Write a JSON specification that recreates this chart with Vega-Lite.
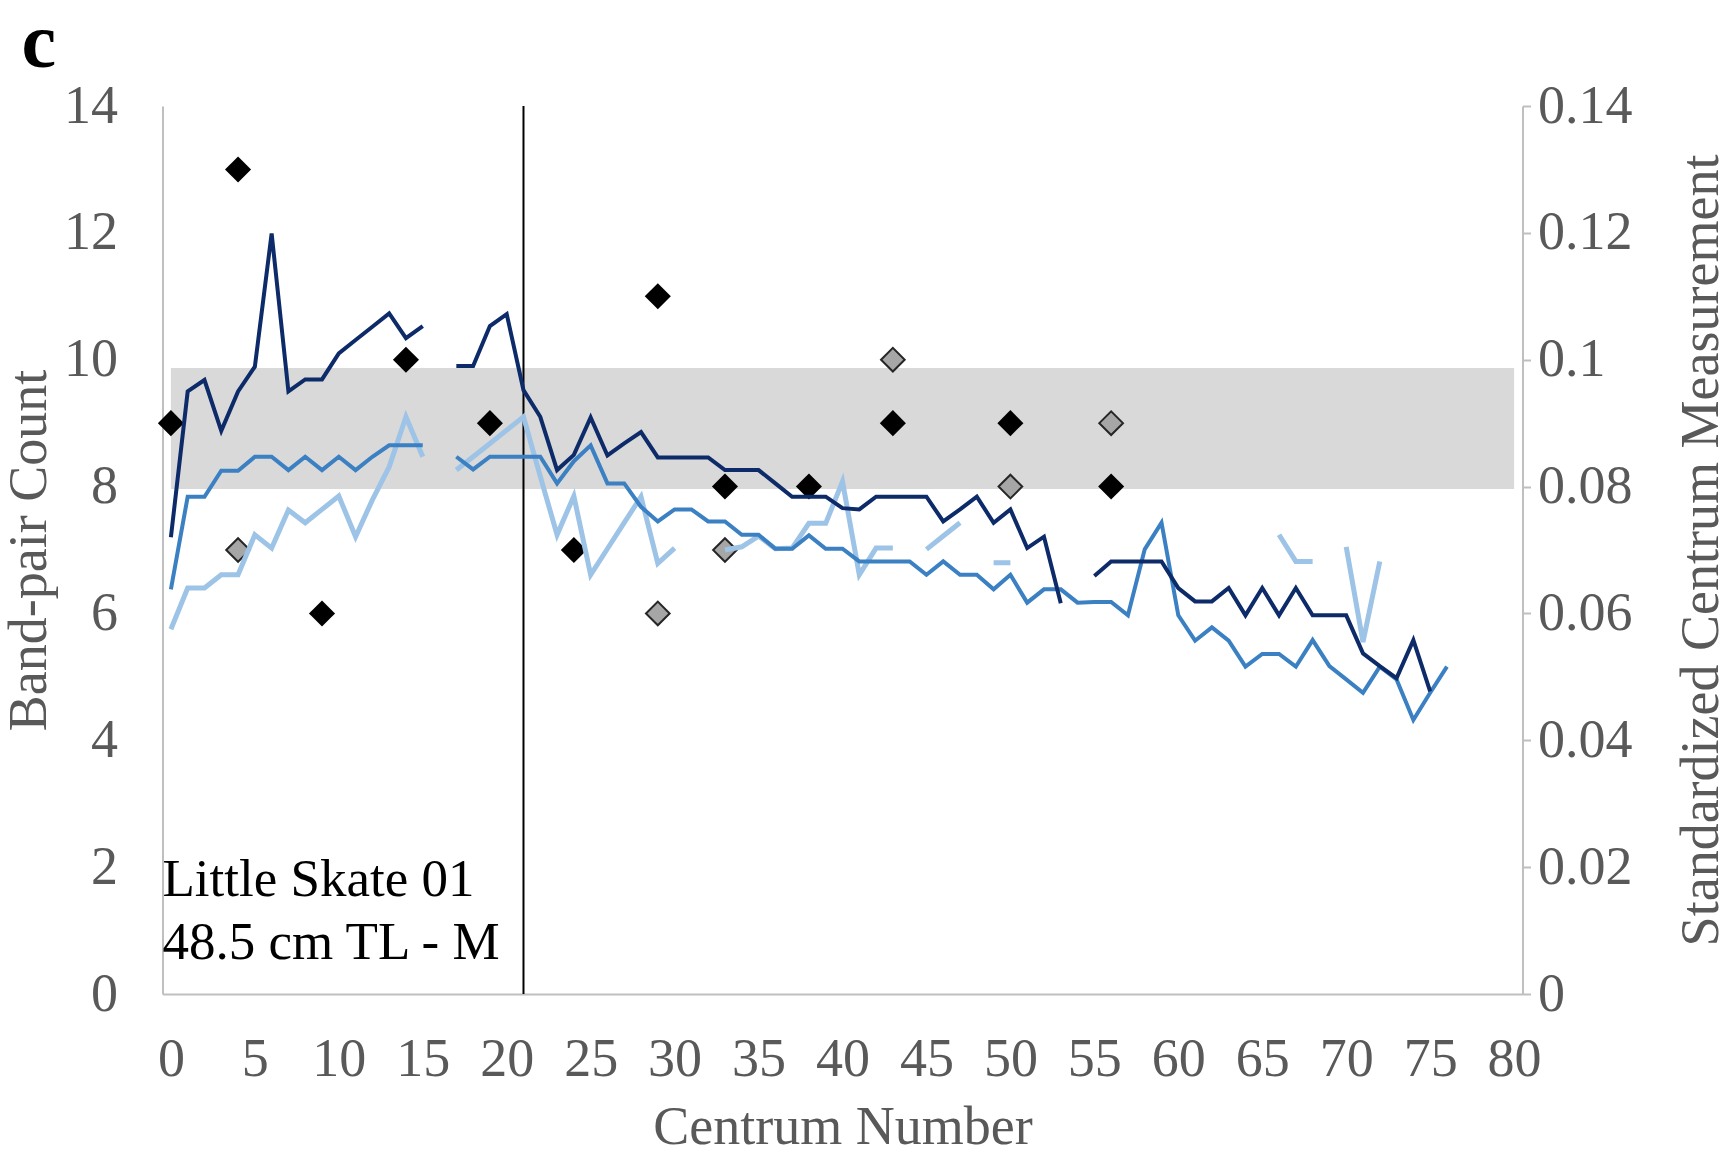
{
  "$schema": "https://vega.github.io/schema/vega-lite/v6.json",
  "width": 1360,
  "height": 888,
  "autosize": {"type": "none"},
  "padding": {"left": 162.5, "top": 106, "right": 202.5, "bottom": 163},
  "background": "white",
  "config": {"view": {"stroke": null}, "font": "Liberation Serif"},
  "title": {"text": "c", "anchor": "start", "frame": "group", "orient": "top", "font": "Liberation Serif", "fontSize": 78, "fontWeight": "bold", "color": "#000000", "dx": -141, "dy": 78, "baseline": "alphabetic", "offset": 12},
  "datasets": {
    "band": [{"centrum": 0, "end": 80, "low": 7.96, "high": 9.87}],
    "divider": [{"centrum": 21}],
    "note": [{"centrum": -0.5, "count": 1.55, "label": "Little Skate 01\n48.5 cm TL - M"}],
    "counts": [
      {"centrum": 0, "count": 9, "reading": "primary"},
      {"centrum": 4, "count": 13, "reading": "primary"},
      {"centrum": 9, "count": 6, "reading": "primary"},
      {"centrum": 14, "count": 10, "reading": "primary"},
      {"centrum": 19, "count": 9, "reading": "primary"},
      {"centrum": 24, "count": 7, "reading": "primary"},
      {"centrum": 29, "count": 11, "reading": "primary"},
      {"centrum": 33, "count": 8, "reading": "primary"},
      {"centrum": 38, "count": 8, "reading": "primary"},
      {"centrum": 43, "count": 9, "reading": "primary"},
      {"centrum": 50, "count": 9, "reading": "primary"},
      {"centrum": 56, "count": 8, "reading": "primary"},
      {"centrum": 4, "count": 7, "reading": "secondary"},
      {"centrum": 29, "count": 6, "reading": "secondary"},
      {"centrum": 33, "count": 7, "reading": "secondary"},
      {"centrum": 43, "count": 10, "reading": "secondary"},
      {"centrum": 50, "count": 8, "reading": "secondary"},
      {"centrum": 56, "count": 9, "reading": "secondary"}
    ],
    "measures": [
      {"centrum": 0, "dark": 0.0720, "medium": 0.0638, "light": 0.0575},
      {"centrum": 1, "dark": 0.0950, "medium": 0.0784, "light": 0.0640},
      {"centrum": 2, "dark": 0.0968, "medium": 0.0784, "light": 0.0640},
      {"centrum": 3, "dark": 0.0888, "medium": 0.0825, "light": 0.0661},
      {"centrum": 4, "dark": 0.0950, "medium": 0.0825, "light": 0.0661},
      {"centrum": 5, "dark": 0.0989, "medium": 0.0847, "light": 0.0724},
      {"centrum": 6, "dark": 0.1199, "medium": 0.0847, "light": 0.0703},
      {"centrum": 7, "dark": 0.0950, "medium": 0.0826, "light": 0.0763},
      {"centrum": 8, "dark": 0.0969, "medium": 0.0847, "light": 0.0743},
      {"centrum": 9, "dark": 0.0969, "medium": 0.0826, "light": 0.0764},
      {"centrum": 10, "dark": 0.1010, "medium": 0.0847, "light": 0.0785},
      {"centrum": 11, "dark": 0.1031, "medium": 0.0826, "light": 0.0721},
      {"centrum": 12, "dark": 0.1052, "medium": 0.0847, "light": 0.0779},
      {"centrum": 13, "dark": 0.1073, "medium": 0.0865, "light": 0.0831},
      {"centrum": 14, "dark": 0.1034, "medium": 0.0865, "light": 0.0910},
      {"centrum": 15, "dark": 0.1053, "medium": 0.0865, "light": 0.0847},
      {"centrum": 16, "dark": null, "medium": null, "light": null},
      {"centrum": 17, "dark": 0.0990, "medium": 0.0847, "light": 0.0826},
      {"centrum": 18, "dark": 0.0990, "medium": 0.0827, "light": 0.0847},
      {"centrum": 19, "dark": 0.1053, "medium": 0.0847, "light": 0.0868},
      {"centrum": 20, "dark": 0.1072, "medium": 0.0847, "light": 0.0889},
      {"centrum": 21, "dark": 0.0952, "medium": 0.0847, "light": 0.0910},
      {"centrum": 22, "dark": 0.0910, "medium": 0.0847, "light": 0.0816},
      {"centrum": 23, "dark": 0.0826, "medium": 0.0805, "light": 0.0724},
      {"centrum": 24, "dark": 0.0850, "medium": 0.0840, "light": 0.0785},
      {"centrum": 25, "dark": 0.0909, "medium": 0.0865, "light": 0.0661},
      {"centrum": 26, "dark": 0.0849, "medium": 0.0805, "light": 0.0702},
      {"centrum": 27, "dark": 0.0868, "medium": 0.0805, "light": 0.0743},
      {"centrum": 28, "dark": 0.0886, "medium": 0.0768, "light": 0.0784},
      {"centrum": 29, "dark": 0.0846, "medium": 0.0745, "light": 0.0679},
      {"centrum": 30, "dark": 0.0846, "medium": 0.0764, "light": 0.0703},
      {"centrum": 31, "dark": 0.0846, "medium": 0.0764, "light": null},
      {"centrum": 32, "dark": 0.0846, "medium": 0.0745, "light": null},
      {"centrum": 33, "dark": 0.0826, "medium": 0.0745, "light": 0.0700},
      {"centrum": 34, "dark": 0.0826, "medium": 0.0724, "light": 0.0705},
      {"centrum": 35, "dark": 0.0826, "medium": 0.0724, "light": 0.0722},
      {"centrum": 36, "dark": 0.0805, "medium": 0.0702, "light": 0.0702},
      {"centrum": 37, "dark": 0.0784, "medium": 0.0702, "light": 0.0703},
      {"centrum": 38, "dark": 0.0784, "medium": 0.0723, "light": 0.0742},
      {"centrum": 39, "dark": 0.0784, "medium": 0.0702, "light": 0.0742},
      {"centrum": 40, "dark": 0.0766, "medium": 0.0702, "light": 0.0808},
      {"centrum": 41, "dark": 0.0764, "medium": 0.0682, "light": 0.0661},
      {"centrum": 42, "dark": 0.0784, "medium": 0.0682, "light": 0.0703},
      {"centrum": 43, "dark": 0.0784, "medium": 0.0682, "light": 0.0703},
      {"centrum": 44, "dark": 0.0784, "medium": 0.0682, "light": null},
      {"centrum": 45, "dark": 0.0784, "medium": 0.0661, "light": 0.0701},
      {"centrum": 46, "dark": 0.0745, "medium": 0.0682, "light": 0.0722},
      {"centrum": 47, "dark": 0.0764, "medium": 0.0661, "light": 0.0743},
      {"centrum": 48, "dark": 0.0784, "medium": 0.0661, "light": null},
      {"centrum": 49, "dark": 0.0743, "medium": 0.0638, "light": 0.0680},
      {"centrum": 50, "dark": 0.0764, "medium": 0.0661, "light": 0.0680},
      {"centrum": 51, "dark": 0.0703, "medium": 0.0617, "light": null},
      {"centrum": 52, "dark": 0.0721, "medium": 0.0638, "light": null},
      {"centrum": 53, "dark": 0.0616, "medium": 0.0638, "light": null},
      {"centrum": 54, "dark": null, "medium": 0.0617, "light": null},
      {"centrum": 55, "dark": 0.0659, "medium": 0.0618, "light": null},
      {"centrum": 56, "dark": 0.0682, "medium": 0.0618, "light": null},
      {"centrum": 57, "dark": 0.0682, "medium": 0.0597, "light": null},
      {"centrum": 58, "dark": 0.0682, "medium": 0.0701, "light": null},
      {"centrum": 59, "dark": 0.0682, "medium": 0.0743, "light": null},
      {"centrum": 60, "dark": 0.0640, "medium": 0.0597, "light": null},
      {"centrum": 61, "dark": 0.0619, "medium": 0.0557, "light": null},
      {"centrum": 62, "dark": 0.0619, "medium": 0.0578, "light": null},
      {"centrum": 63, "dark": 0.0640, "medium": 0.0557, "light": null},
      {"centrum": 64, "dark": 0.0597, "medium": 0.0516, "light": null},
      {"centrum": 65, "dark": 0.0640, "medium": 0.0536, "light": null},
      {"centrum": 66, "dark": 0.0597, "medium": 0.0536, "light": 0.0724},
      {"centrum": 67, "dark": 0.0640, "medium": 0.0516, "light": 0.0682},
      {"centrum": 68, "dark": 0.0597, "medium": 0.0558, "light": 0.0682},
      {"centrum": 69, "dark": 0.0597, "medium": 0.0517, "light": null},
      {"centrum": 70, "dark": 0.0597, "medium": 0.0496, "light": 0.0705},
      {"centrum": 71, "dark": 0.0537, "medium": 0.0475, "light": 0.0555},
      {"centrum": 72, "dark": 0.0517, "medium": 0.0516, "light": 0.0682},
      {"centrum": 73, "dark": 0.0498, "medium": 0.0496, "light": null},
      {"centrum": 74, "dark": 0.0558, "medium": 0.0432, "light": null},
      {"centrum": 75, "dark": 0.0477, "medium": 0.0475, "light": null},
      {"centrum": 76, "dark": null, "medium": 0.0516, "light": null}
    ]
  },
  "encoding": {
    "x": {
      "field": "centrum",
      "type": "quantitative",
      "scale": {"domain": [-0.5, 80.5], "nice": false, "zero": false},
      "axis": {
        "title": "Centrum Number",
        "values": [0, 5, 10, 15, 20, 25, 30, 35, 40, 45, 50, 55, 60, 65, 70, 75, 80],
        "ticks": false,
        "grid": false,
        "domainColor": "#BFBFBF",
        "domainWidth": 2,
        "labelFont": "Liberation Serif",
        "labelFontSize": 54,
        "labelColor": "#595959",
        "labelPadding": 38,
        "labelFlush": false,
        "labelOverlap": false,
        "titleFont": "Liberation Serif",
        "titleFontSize": 54,
        "titleFontWeight": "normal",
        "titleColor": "#595959",
        "titleBaseline": "alphabetic",
        "titleX": 680,
        "titleY": 149
      }
    }
  },
  "layer": [
    {
      "encoding": {
        "y": {
          "type": "quantitative",
          "scale": {"domain": [0, 14], "nice": false},
          "axis": {
            "title": "Band-pair Count",
            "orient": "left",
            "values": [0, 2, 4, 6, 8, 10, 12, 14],
            "ticks": false,
            "grid": false,
            "domainColor": "#BFBFBF",
            "domainWidth": 2,
            "labelFont": "Liberation Serif",
            "labelFontSize": 54,
            "labelColor": "#595959",
            "labelPadding": 45,
            "labelFlush": false,
            "titleFont": "Liberation Serif",
            "titleFontSize": 54,
            "titleFontWeight": "normal",
            "titleColor": "#595959",
            "titleAngle": 270,
            "titleBaseline": "alphabetic",
            "titleAlign": "center",
            "titleX": -117,
            "titleY": 444
          }
        }
      },
      "layer": [
        {
          "data": {"name": "band"},
          "mark": {"type": "rect", "color": "#D9D9D9"},
          "encoding": {
            "x2": {"field": "end"},
            "y": {"field": "low", "type": "quantitative", "title": "Band-pair Count"},
            "y2": {"field": "high"}
          }
        },
        {
          "data": {"name": "divider"},
          "mark": {"type": "rule", "color": "#000000", "strokeWidth": 2},
          "encoding": {}
        },
        {
          "data": {"name": "counts"},
          "transform": [{"filter": "datum.reading === 'primary'"}],
          "mark": {"type": "point", "shape": "diamond", "filled": true, "color": "#000000", "size": 680, "opacity": 1},
          "encoding": {
            "y": {"field": "count", "type": "quantitative", "title": "Band-pair Count"}
          }
        },
        {
          "data": {"name": "counts"},
          "transform": [{"filter": "datum.reading === 'secondary'"}],
          "mark": {"type": "point", "shape": "diamond", "filled": true, "fill": "#A6A6A6", "stroke": "#262626", "strokeWidth": 2, "size": 560, "opacity": 1},
          "encoding": {
            "y": {"field": "count", "type": "quantitative", "title": "Band-pair Count"}
          }
        },
        {
          "data": {"name": "note"},
          "mark": {"type": "text", "align": "left", "baseline": "alphabetic", "font": "Liberation Serif", "fontSize": 53, "color": "#000000", "lineBreak": "\n", "lineHeight": 63},
          "encoding": {
            "y": {"field": "count", "type": "quantitative", "title": "Band-pair Count"},
            "text": {"field": "label"}
          }
        }
      ]
    },
    {
      "data": {"name": "measures"},
      "encoding": {
        "y": {
          "type": "quantitative",
          "scale": {"domain": [0, 0.14], "nice": false},
          "axis": {
            "title": "Standardized Centrum Measurement",
            "orient": "right",
            "values": [0, 0.02, 0.04, 0.06, 0.08, 0.1, 0.12, 0.14],
            "format": "~g",
            "ticks": true,
            "tickSize": 8,
            "tickWidth": 2,
            "tickColor": "#BFBFBF",
            "grid": false,
            "domainColor": "#BFBFBF",
            "domainWidth": 2,
            "labelFont": "Liberation Serif",
            "labelFontSize": 54,
            "labelColor": "#595959",
            "labelPadding": 7,
            "labelFlush": false,
            "titleFont": "Liberation Serif",
            "titleFontSize": 54,
            "titleFontWeight": "normal",
            "titleColor": "#595959",
            "titleAngle": 270,
            "titleBaseline": "alphabetic",
            "titleAlign": "center",
            "titleX": 195,
            "titleY": 444
          }
        }
      },
      "layer": [
        {
          "mark": {"type": "line", "color": "#9DC3E6", "strokeWidth": 5, "invalid": "break-paths-show-domains"},
          "encoding": {
            "y": {"field": "light", "type": "quantitative", "title": "Standardized Centrum Measurement"}
          }
        },
        {
          "mark": {"type": "line", "color": "#3A80C2", "strokeWidth": 4, "invalid": "break-paths-show-domains"},
          "encoding": {
            "y": {"field": "medium", "type": "quantitative", "title": "Standardized Centrum Measurement"}
          }
        },
        {
          "mark": {"type": "line", "color": "#0D2A69", "strokeWidth": 4, "invalid": "break-paths-show-domains"},
          "encoding": {
            "y": {"field": "dark", "type": "quantitative", "title": "Standardized Centrum Measurement"}
          }
        }
      ]
    }
  ],
  "resolve": {"scale": {"y": "independent"}}
}
